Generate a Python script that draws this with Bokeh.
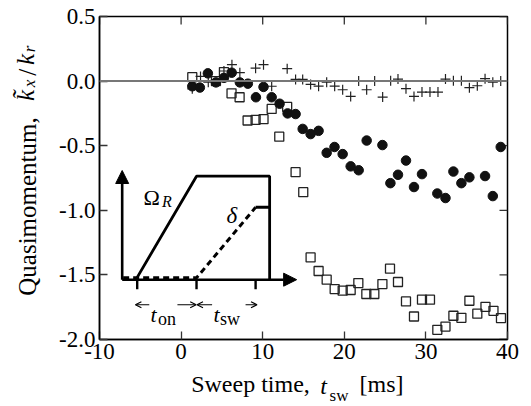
import math
from bokeh.plotting import figure
from bokeh.models import Range1d, FixedTicker, Span, Arrow, NormalHead, OpenHead, LinearAxis
from bokeh.core.properties import value
from bokeh.embed import file_html
from bokeh.resources import INLINE

# ---------------- data ----------------
circle_t = [1.37, 2.3, 3.28, 4.27, 5.25, 6.2, 7.2, 8.18, 9.17, 10.1, 11.1, 12.07, 13.05, 14.03,
            14.9, 15.87, 16.85, 17.84, 18.8, 19.8, 20.78, 21.76, 22.74, 24.67, 25.65, 26.58,
            27.56, 28.54, 29.52, 31.4, 32.4, 33.37, 34.35, 35.33, 37.25, 38.2, 39.17]
circle_k = [-0.04, -0.05, 0.06, -0.01, 0.025, 0.065, -0.01, -0.02, -0.125, -0.045, -0.125, -0.175,
            -0.25, -0.255, -0.37, -0.41, -0.385, -0.555, -0.51, -0.565, -0.66, -0.69, -0.46,
            -0.495, -0.79, -0.725, -0.615, -0.82, -0.72, -0.87, -0.905, -0.70, -0.79, -0.745,
            -0.735, -0.89, -0.51]

square_t = [1.37, 4.27, 5.25, 6.18, 7.17, 8.15, 9.13, 10.1, 11.1, 12.03, 13.0, 14.03, 14.97,
            15.87, 16.85, 17.84, 18.82, 19.8, 20.78, 21.72, 22.7, 23.68, 24.67, 25.6, 26.58,
            27.56, 28.54, 29.52, 30.5, 31.4, 32.4, 33.37, 34.35, 35.33, 36.3, 37.3, 38.28, 39.2]
square_k = [0.03, 0.0, 0.07, -0.095, -0.125, -0.305, -0.30, -0.295, -0.215, -0.43, -0.20, -0.705,
            -0.86, -1.365, -1.47, -1.537, -1.61, -1.622, -1.617, -1.563, -1.648, -1.648, -1.571,
            -1.452, -1.555, -1.705, -1.822, -1.692, -1.692, -1.925, -1.90, -1.816, -1.832, -1.70,
            -1.80, -1.747, -1.778, -1.834]

cross_t = [1.37, 2.38, 3.33, 5.25, 6.23, 7.2, 9.13, 10.1, 11.1, 13.0, 14.03, 14.9, 15.87, 16.85,
           17.84, 18.82, 19.8, 20.78, 21.76, 22.74, 23.72, 24.7, 25.68, 26.58, 27.56, 28.54,
           29.52, 30.5, 31.48, 32.4, 33.37, 34.35, 35.33, 36.3, 37.25, 38.2, 39.17]
cross_k = [-0.06, 0.036, -0.008, 0.078, 0.127, 0.065, 0.10, 0.127, -0.04, 0.096, 0.013, 0.013,
           -0.026, -0.039, -0.008, -0.039, -0.067, -0.119, 0.0, -0.067, 0.0, -0.124, 0.003,
           0.016, -0.059, -0.119, -0.085, -0.085, -0.085, 0.016, 0.003, 0.003, -0.051, -0.036,
           0.019, -0.008, 0.0]

x_ticks = [-10, 0, 10, 20, 30, 40]
x_tick_labels = ["-10", "0", "10", "20", "30", "40"]
y_ticks = [-2.0, -1.5, -1.0, -0.5, 0.0, 0.5]
y_tick_labels = ["-2.0", "-1.5", "-1.0", "-0.5", "0.0", "0.5"]

# axis titles, split into pieces of one style each
x_title_upright = ["Sweep time,", "[ms]"]
x_title_italic = ["t"]
x_title_sub = ["sw"]
y_title_upright = ["Quasimomentum,", "/"]
y_title_italic = ["k\u0303", "k"]
y_title_sub = ["x", "r"]

# inset schematic (drawn in the axes' own coordinates)
inset_omega_t = [-5.38, 1.89, 10.85, 10.85]
inset_omega_v = [-1.519, -0.736, -0.736, -1.537]
inset_delta_t = [-7.1, 1.89, 2.29, 9.13]
inset_delta_v = [-1.522, -1.522, -1.493, -0.977]
inset_tick_t = [-5.38, 1.89, 9.13]

SERIF = "Liberation Serif"

# ---------------- geometry (page pixels of the reference) ----------------
FL, FT, FW, FH = 99, 16, 408, 323
X0, X1, Y0, Y1 = -10, 40, -2.0, 0.5


def px2x(px):
    return round(X0 + (px - FL) * (X1 - X0) / FW, 4)


def py2y(py):
    return round(Y1 - (py - FT) * (Y1 - Y0) / FH, 4)


p = figure(width=523, height=401, output_backend="svg", toolbar_location=None,
           x_range=Range1d(X0, X1), y_range=Range1d(Y0, Y1),
           min_border_left=FL, min_border_right=16, min_border_top=FT, min_border_bottom=59)
p.frame_width = FW
p.frame_height = FH
p.xgrid.visible = False
p.ygrid.visible = False
p.outline_line_color = "black"
p.outline_line_width = 1.5
p.background_fill_color = "white"
p.border_fill_color = "white"


def style_axis(ax, ticks, labels):
    ax.ticker = FixedTicker(ticks=ticks)
    ax.major_label_overrides = {t: l for t, l in zip(ticks, labels)}
    ax.major_tick_in = 8
    ax.major_tick_out = 0
    ax.minor_tick_line_color = None
    ax.major_tick_line_color = "#333333"
    ax.major_tick_line_width = 1.3
    ax.axis_line_color = "black"
    ax.axis_line_width = 1.5
    ax.major_label_text_font = SERIF
    ax.major_label_text_color = "black"
    ax.major_label_text_font_size = "23px"
    ax.major_label_standoff = 4


style_axis(p.xaxis[0], x_ticks, x_tick_labels)
style_axis(p.yaxis[0], y_ticks, y_tick_labels)


def title_axis(side, centers, texts, size, style, standoff):
    ax = LinearAxis()
    ax.ticker = FixedTicker(ticks=centers)
    ax.major_label_overrides = {c: t for c, t in zip(centers, texts)}
    ax.major_tick_in = 0
    ax.major_tick_out = 0
    ax.major_tick_line_color = None
    ax.minor_tick_line_color = None
    ax.axis_line_color = None
    ax.major_label_text_font = SERIF
    ax.major_label_text_font_size = size
    ax.major_label_text_font_style = style
    ax.major_label_text_color = "black"
    ax.major_label_standoff = standoff
    if side == "left":
        ax.major_label_orientation = "vertical"
    p.add_layout(ax, side)
    return ax


# x title: "Sweep time, t_sw [ms]"
title_axis("below", [px2x(250), px2x(381)], x_title_upright, "24px", "normal", 9)
title_axis("below", [px2x(323)], x_title_italic, "24px", "italic", -27)
title_axis("below", [px2x(338.5)], x_title_sub, "17px", "normal", -16)

# y title: "Quasimomentum, k~_x / k_r"
title_axis("left", [py2y(206), py2y(71.7)], y_title_upright, "25px", "normal", 15)
title_axis("left", [py2y(95), py2y(59)], y_title_italic, "25px", "italic", -28)
title_axis("left", [py2y(83), py2y(48.5)], y_title_sub, "17px", "italic", -30)

# inward ticks on the top and right edges, taken from the tick lists
tick_dx = 8 * (X1 - X0) / FW
tick_dy = 8 * (Y1 - Y0) / FH
p.segment(x0=x_ticks, y0=[Y1] * len(x_ticks), x1=x_ticks, y1=[Y1 - tick_dy] * len(x_ticks),
          line_color="#333333", line_width=1.3)
p.segment(x0=[X1] * len(y_ticks), y0=y_ticks, x1=[X1 - tick_dx] * len(y_ticks), y1=y_ticks,
          line_color="#333333", line_width=1.3)

p.add_layout(Span(location=0, dimension="width", line_color="#777777", line_width=2))

# data marks
p.scatter(square_t, square_k, marker="square", size=9, fill_color="white", fill_alpha=0,
          line_color="#222222", line_width=1.3)
p.scatter(cross_t, cross_k, marker="cross", size=10, line_color="#222222", line_width=1.2)
p.scatter(circle_t, circle_k, marker="circle", size=9.5, fill_color="#111111", line_color="#111111")

# ---------------- inset ----------------
p.line(inset_omega_t, inset_omega_v, line_color="black", line_width=2.8)
p.line(inset_delta_t, inset_delta_v, line_color="black", line_width=3, line_dash="6 4")
p.line([inset_delta_t[-1], inset_omega_t[-1]], [inset_delta_v[-1], inset_delta_v[-1]],
       line_color="black", line_width=3)
p.segment(x0=inset_tick_t, y0=[-1.537] * 3, x1=inset_tick_t, y1=[-1.612] * 3,
          line_color="black", line_width=2.4)
p.add_layout(Arrow(end=NormalHead(size=13, fill_color="black", line_color="black"),
                   x_start=-7.22, y_start=-1.537, x_end=-7.22, y_end=-0.692,
                   line_width=2.6, line_color="black"))
p.add_layout(Arrow(end=NormalHead(size=13, fill_color="black", line_color="black"),
                   x_start=-7.22, y_start=-1.537, x_end=14.16, y_end=-1.537,
                   line_width=2.6, line_color="black"))
for xs, xe in [(-3.9, -5.6), (-0.45, 1.85), (3.8, 1.95), (7.9, 9.3)]:
    p.add_layout(Arrow(end=OpenHead(size=6, line_width=1.2, line_color="black"),
                       x_start=xs, y_start=-1.731, x_end=xe, y_end=-1.731,
                       line_width=1.2, line_color="black"))

p.text(x=[px2x(143)], y=[py2y(197)], text=["\u03a9"], text_font=value(SERIF),
       text_font_size="22px", text_baseline="alphabetic", text_align="left", text_color="black")
p.text(x=[px2x(161.5)], y=[py2y(201)], text=["R"], text_font=value(SERIF),
       text_font_style="italic", text_font_size="16px", text_baseline="alphabetic",
       text_align="left", text_color="black")
p.text(x=[px2x(226)], y=[py2y(215)], text=["\u03b4"], text_font=value(SERIF),
       text_font_style="italic", text_font_size="23px", text_baseline="alphabetic",
       text_align="left", text_color="black")
p.text(x=[px2x(150), px2x(213)], y=[py2y(314), py2y(314)], text=["t", "t"],
       text_font=value(SERIF), text_font_style="italic", text_font_size="22px",
       text_baseline="alphabetic", text_align="left", text_color="black")
p.text(x=[px2x(157.5), px2x(219.5)], y=[py2y(318), py2y(318)], text=["on", "sw"],
       text_font=value(SERIF), text_font_size="18px",
       text_baseline="alphabetic", text_align="left", text_color="black")

open("out.html", "w").write(file_html(p, INLINE))
